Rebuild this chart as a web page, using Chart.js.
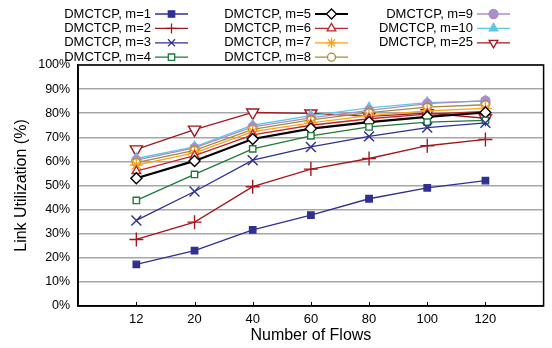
<!DOCTYPE html>
<html>
<head>
<meta charset="utf-8">
<script src="https://cdn.jsdelivr.net/npm/chart.js@4"></script>
<style>
  html, body { margin: 0; padding: 0; background: #fff; }
  #wrap { width: 552px; height: 348px; position: relative; }
</style>
</head>
<body>
<div id="wrap"><canvas id="chart"></canvas></div>
<script>
// Datos (utilización en %)
const flows = ['12', '20', '40', '60', '80', '100', '120'];
const m1  = [17.3, 23.0, 31.6, 37.7, 44.5, 49.0, 52.0];
const m2  = [27.6, 34.8, 49.5, 56.8, 61.2, 66.5, 69.1];
const m3  = [35.5, 47.5, 60.5, 66.0, 70.4, 74.0, 76.0];
const m4  = [43.8, 54.6, 65.2, 70.6, 74.3, 76.3, 77.0];
const m5  = [53.0, 60.2, 69.3, 73.6, 76.3, 78.5, 80.3];
const m6  = [56.0, 62.4, 71.0, 75.0, 77.7, 79.6, 80.7];
const m7  = [58.5, 63.5, 72.4, 76.0, 79.0, 81.0, 82.0];
const m8  = [59.5, 64.6, 73.3, 77.2, 80.2, 82.5, 83.5];
const m9  = [60.5, 65.6, 74.3, 78.1, 81.2, 84.0, 85.2];
const m10 = [61.2, 66.0, 75.0, 79.0, 82.2, 84.4, 85.0];
const m25 = [65.0, 73.2, 80.3, 79.9, 78.7, 80.0, 77.9];
const yTicks = [0, 10, 20, 30, 40, 50, 60, 70, 80, 90, 100];

const FONT = 'Liberation Sans, Arial, sans-serif';

// Estilo de cada serie
const series = [
  { label: 'DMCTCP, m=1',  data: m1,  color: '#2E3192', style: 'rect',      fill: true,  r: 4.5 },
  { label: 'DMCTCP, m=2',  data: m2,  color: '#A3171D', style: 'cross',     fill: false, r: 7 },
  { label: 'DMCTCP, m=3',  data: m3,  color: '#2E3192', style: 'crossRot',  fill: false, r: 7 },
  { label: 'DMCTCP, m=4',  data: m4,  color: '#1E7B3A', style: 'rect',      fill: false, r: 4.5 },
  { label: 'DMCTCP, m=5',  data: m5,  color: '#000000', style: 'rectRot',   fill: false, r: 5.5, width: 2.2 },
  { label: 'DMCTCP, m=6',  data: m6,  color: '#C1272D', style: 'triangle',  fill: false, r: 5 },
  { label: 'DMCTCP, m=7',  data: m7,  color: '#FBA11B', style: 'star',      fill: false, r: 6.5 },
  { label: 'DMCTCP, m=8',  data: m8,  color: '#A58A3F', style: 'circle',    fill: false, r: 4 },
  { label: 'DMCTCP, m=9',  data: m9,  color: '#A88FCC', style: 'circle',    fill: true,  r: 4.5 },
  { label: 'DMCTCP, m=10', data: m10, color: '#5CC8E2', style: 'triangle',  fill: true,  r: 5.5 },
  { label: 'DMCTCP, m=25', data: m25, color: '#A3171D', style: 'triangle',  fill: false, r: 7, rot: 180 }
];

// Leyenda en tres columnas, texto a la izquierda de la muestra
const legendPlugin = {
  id: 'legendCols',
  afterDraw(chart) {
    const ctx = chart.ctx;
    const lineX = [155, 315, 477];
    ctx.save();
    ctx.font = '13px ' + FONT;
    ctx.textAlign = 'right';
    ctx.textBaseline = 'middle';
    chart.data.datasets.forEach((ds, i) => {
      const col = Math.floor(i / 4);
      const row = i % 4;
      const x0 = lineX[col];
      const y = 14 + row * 14.4;
      ctx.fillStyle = '#000';
      ctx.fillText(ds.label, x0 - 4, y);
      ctx.strokeStyle = ds.borderColor;
      ctx.lineWidth = ds.borderWidth;
      ctx.beginPath();
      ctx.moveTo(x0, y);
      ctx.lineTo(x0 + 33, y);
      ctx.stroke();
      ctx.fillStyle = ds.pointBackgroundColor;
      ctx.lineWidth = 1.3;
      Chart.helpers.drawPoint(ctx, {
        pointStyle: ds.pointStyle,
        radius: Math.min(ds.pointRadius, 5),
        rotation: ds.pointRotation || 0,
        borderWidth: 1.3
      }, x0 + 16.5, y);
    });
    ctx.restore();
  }
};

// Marco negro alrededor del área de trazado + marcas hacia dentro en el eje X
const framePlugin = {
  id: 'frame',
  beforeDatasetsDraw(chart) {
    const a = chart.chartArea;
    const ctx = chart.ctx;
    const xs = chart.scales.x;
    ctx.save();
    ctx.strokeStyle = '#000';
    ctx.lineWidth = 1.5;
    ctx.strokeRect(a.left, a.top, a.right - a.left, a.bottom - a.top);
    ctx.lineWidth = 1;
    ctx.beginPath();
    flows.forEach((f, i) => {
      const px = Math.round(xs.getPixelForValue(i)) + 0.5;
      ctx.moveTo(px, a.bottom);
      ctx.lineTo(px, a.bottom - 4);
    });
    ctx.stroke();
    ctx.restore();
  }
};

new Chart(document.getElementById('chart'), {
  type: 'line',
  data: {
    datasets: series.map(s => ({
      label: s.label,
      data: s.data.map((v, i) => ({ x: i, y: v })),
      borderColor: s.color,
      backgroundColor: s.color,
      borderWidth: s.width || 1.3,
      pointStyle: s.style,
      pointRadius: s.r,
      pointHoverRadius: s.r,
      pointRotation: s.rot || 0,
      pointBorderWidth: 1.4,
      pointBorderColor: s.color,
      pointBackgroundColor: s.fill ? s.color : '#ffffff',
      tension: 0
    }))
  },
  options: {
    responsive: true,
    maintainAspectRatio: false,
    animation: false,
    layout: { padding: { top: 65, right: 4, left: 12, bottom: 4 } },
    plugins: {
      legend: { display: false },
      tooltip: { enabled: false }
    },
    scales: {
      x: {
        type: 'linear',
        min: -1,
        max: flows.length,
        afterBuildTicks: scale => { scale.ticks = flows.map((f, i) => ({ value: i })); },
        ticks: {
          callback: v => flows[v],
          color: '#000',
          font: { family: FONT, size: 13, lineHeight: 1 },
          padding: 7,
          maxRotation: 0
        },
        grid: { display: false, drawTicks: false },
        border: { color: '#000', width: 1.5 },
        title: {
          display: true,
          text: 'Number of Flows',
          color: '#000',
          font: { family: FONT, size: 16, lineHeight: 1 },
          padding: { top: -5, bottom: 0 }
        }
      },
      y: {
        min: 0,
        max: 100,
        afterBuildTicks: scale => { scale.ticks = yTicks.map(v => ({ value: v })); },
        ticks: {
          callback: v => v + '%',
          color: '#000',
          font: { family: FONT, size: 12.5 },
          padding: 8
        },
        grid: { color: '#a6a6a6', lineWidth: 1.6, drawTicks: false },
        border: { color: '#000', width: 1.5 },
        title: {
          display: true,
          text: 'Link Utilization (%)',
          color: '#000',
          font: { family: FONT, size: 16 },
          padding: { top: 0, bottom: -1 }
        }
      }
    }
  },
  plugins: [framePlugin, legendPlugin]
});
</script>
</body>
</html>
